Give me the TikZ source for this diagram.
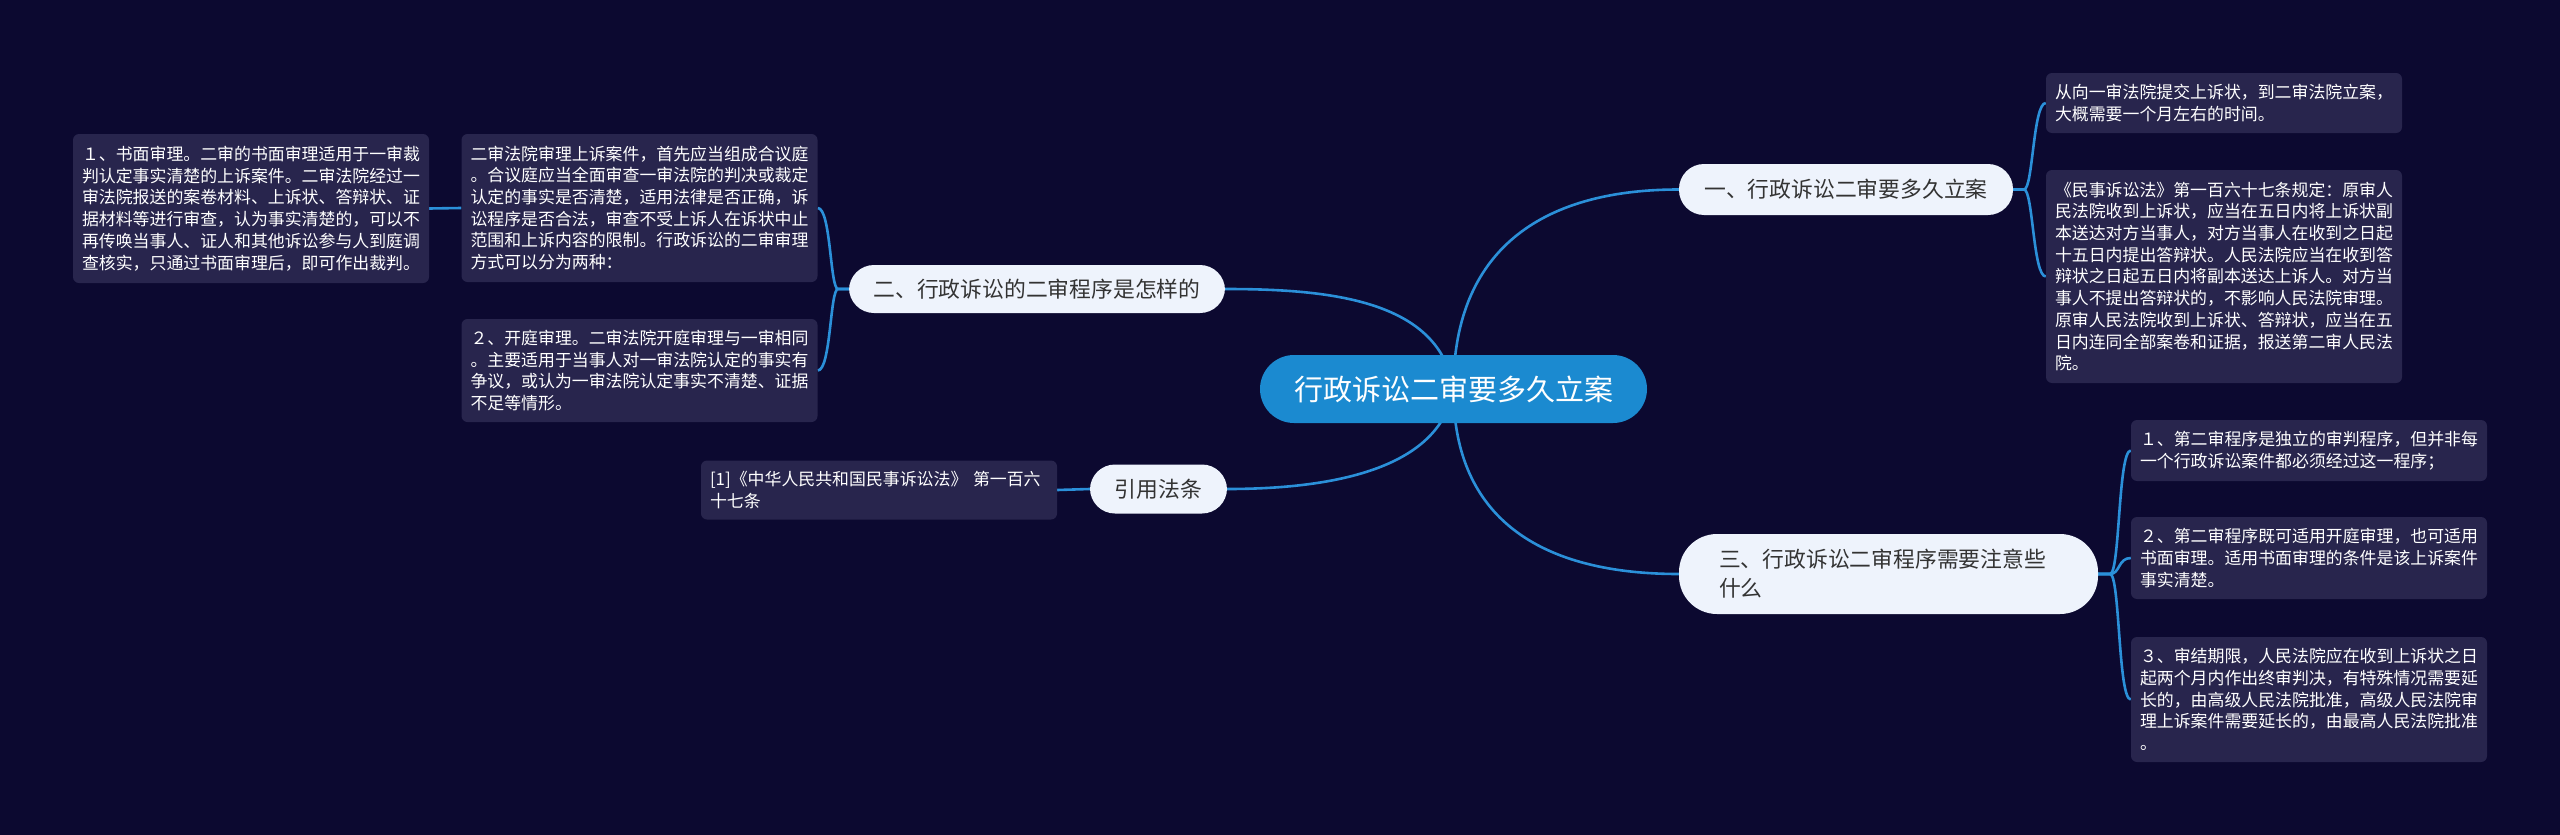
\documentclass[tikz,border=0pt]{standalone}
\usepackage{fontspec}
\setmainfont{Noto Sans CJK SC}
\usetikzlibrary{backgrounds}
\definecolor{bgc}{HTML}{0C0930}
\definecolor{leafc}{HTML}{28254D}
\definecolor{linec}{HTML}{2B90D9}
\definecolor{rootc}{HTML}{1B8AD0}
\definecolor{branchc}{HTML}{EEF3FC}
\definecolor{btext}{HTML}{333333}
\tikzset{
  leaf/.style={fill=leafc, rounded corners=6pt, text=white, align=left,
    inner xsep=9pt, inner ysep=0pt, text width=338pt,
    font=\fontsize{16.9}{21.7}\selectfont},
  branch/.style={fill=branchc, text=btext, rounded corners=25pt,
    inner sep=0pt, font=\fontsize{21.8}{29}\selectfont},
  rootnode/.style={fill=rootc, text=white, rounded corners=34pt,
    inner sep=0pt, minimum width=387pt, minimum height=68pt,
    font=\fontsize{29}{34}\selectfont},
  conn/.style={draw=linec, line width=2.6pt}
}
\begin{document}
\begin{tikzpicture}[x=1pt,y=-1pt]
\useasboundingbox (0,0) rectangle (2560,835);
\begin{scope}[on background layer]
\fill[bgc] (0,0) rectangle (2560,835);
\end{scope}

% root
\node[rootnode] (root) at (1453.5,389) {行政诉讼二审要多久立案};

% branches
\node[branch, minimum width=334pt, minimum height=51pt] (n1) at (1846,189.5) {一、行政诉讼二审要多久立案};
\node[branch, minimum width=376pt, minimum height=48pt] (n2) at (1037,289) {二、行政诉讼的二审程序是怎样的};
\node[branch, rounded corners=38pt, minimum height=80pt, text width=339pt, inner xsep=40pt, align=left] (n3) at (1888.5,574) {三、行政诉讼二审程序需要注意些\\什么};
\node[branch, minimum width=137pt, minimum height=49pt] (n4) at (1158.5,489) {引用法条};

% leaves
\node[leaf, minimum height=149pt] (a) at (251,208.5) {１、书面审理。二审的书面审理适用于一审裁\\判认定事实清楚的上诉案件。二审法院经过一\\审法院报送的案卷材料、上诉状、答辩状、证\\据材料等进行审查，认为事实清楚的，可以不\\再传唤当事人、证人和其他诉讼参与人到庭调\\查核实，只通过书面审理后，即可作出裁判。};
\node[leaf, minimum height=148pt] (b) at (639.5,208) {二审法院审理上诉案件，首先应当组成合议庭\\。合议庭应当全面审查一审法院的判决或裁定\\认定的事实是否清楚，适用法律是否正确，诉\\讼程序是否合法，审查不受上诉人在诉状中止\\范围和上诉内容的限制。行政诉讼的二审审理\\方式可以分为两种：};
\node[leaf, minimum height=103pt] (c) at (639.5,370.5) {２、开庭审理。二审法院开庭审理与一审相同\\。主要适用于当事人对一审法院认定的事实有\\争议，或认为一审法院认定事实不清楚、证据\\不足等情形。};
\node[leaf, minimum height=59pt] (d) at (879,490) {\makebox[338pt][l]{[1]《中华人民共和国民事诉讼法》 第一百六}\\十七条};
\node[leaf, minimum height=60pt] (e) at (2224,103) {从向一审法院提交上诉状，到二审法院立案，\\大概需要一个月左右的时间。};
\node[leaf, minimum height=213pt] (f) at (2224,276.5) {《民事诉讼法》第一百六十七条规定：原审人\\民法院收到上诉状，应当在五日内将上诉状副\\本送达对方当事人，对方当事人在收到之日起\\十五日内提出答辩状。人民法院应当在收到答\\辩状之日起五日内将副本送达上诉人。对方当\\事人不提出答辩状的，不影响人民法院审理。\\原审人民法院收到上诉状、答辩状，应当在五\\日内连同全部案卷和证据，报送第二审人民法\\院。};
\node[leaf, minimum height=61pt] (g) at (2309,450.5) {１、第二审程序是独立的审判程序，但并非每\\一个行政诉讼案件都必须经过这一程序；};
\node[leaf, minimum height=82pt] (h) at (2309,558) {２、第二审程序既可适用开庭审理，也可适用\\书面审理。适用书面审理的条件是该上诉案件\\事实清楚。};
\node[leaf, minimum height=125pt] (i) at (2309,699.5) {３、审结期限，人民法院应在收到上诉状之日\\起两个月内作出终审判决，有特殊情况需要延\\长的，由高级人民法院批准，高级人民法院审\\理上诉案件需要延长的，由最高人民法院批准\\。};

% connectors
\begin{scope}[on background layer]
\draw[conn] (root.center) .. controls (1453,260) and (1530,189.5) .. (n1.west);
\draw[conn] (root.center) .. controls (1453,510) and (1530,574) .. (n3.west);
\draw[conn] (root.center) .. controls (1440,300) and (1330,289) .. (n2.east);
\draw[conn] (root.center) .. controls (1440,470) and (1330,489) .. (n4.east);

\coordinate (n1r) at (2024,189.5);
\draw[conn] (n1.east) -- (n1r) .. controls (2033,189.5) and (2033,103) .. (e.west);
\draw[conn] (n1.east) -- (n1r) .. controls (2033,189.5) and (2033,276.5) .. (f.west);

\coordinate (n3r) at (2110,574);
\draw[conn] (n3.east) -- (n3r) .. controls (2120,574) and (2118,450.5) .. (g.west);
\draw[conn] (n3.east) -- (n3r) .. controls (2120,574) and (2118,558) .. (h.west);
\draw[conn] (n3.east) -- (n3r) .. controls (2120,574) and (2118,699.5) .. (i.west);

\coordinate (n2l) at (838,289);
\draw[conn] (n2.west) -- (n2l) .. controls (830,289) and (831,208) .. (b.east);
\draw[conn] (n2.west) -- (n2l) .. controls (830,289) and (831,370.5) .. (c.east);

\draw[conn] (b.west) -- (a.east);
\draw[conn] (n4.west) -- (d.east);
\end{scope}
\end{tikzpicture}
\end{document}
